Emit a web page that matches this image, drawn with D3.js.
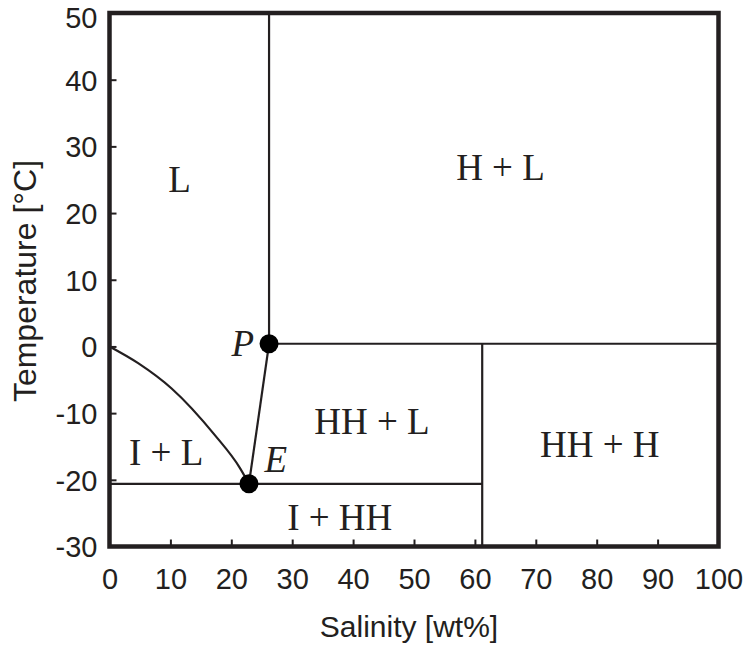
<!DOCTYPE html>
<meta charset="utf-8">
<style>
	body { margin: 0; background: #fff; }
	.axis text { font-family: "Liberation Sans", Arial, sans-serif; font-size: 29px; fill: #231f20; }
	.axis line { stroke: #231f20; stroke-width: 2; }
	.axis path { display: none; }
	.title { font-family: "Liberation Sans", Arial, sans-serif; font-size: 30px; fill: #231f20; }
	.phase { font-family: "Liberation Serif", "Times New Roman", serif; font-size: 37px; fill: #231f20; }
	.phase.pt { font-style: italic; }
	.bound { fill: none; stroke: #231f20; stroke-width: 2.2; }
</style>

<svg width="747" height="650"></svg>
<script src="https://d3js.org/d3.v7.min.js"></script>

<script>
	// tick values
	var xTicks = [0, 10, 20, 30, 40, 50, 60, 70, 80, 90, 100];
	var yTicks = [-30, -20, -10, 0, 10, 20, 30, 40, 50];

	// invariant points (salinity, temperature)
	var pointP = [26.2, 0.4];
	var pointE = [22.9, -20.6];

	// ice liquidus, from pure water down to E
	var iceCurve = [[0, 0], [4.7, -2.5], [10.2, -6.3], [17.3, -13.3], [21.4, -18.2], [22.9, -20.6]];

	// straight phase boundaries
	var boundaries = [
		[[26.2, 50], pointP],
		[pointP, [100, 0.4]],
		[pointP, pointE],
		[[0, -20.6], [61.2, -20.6]],
		[[61.2, -30], [61.2, 0.4]]
	];

	// field labels
	var labels = [
		{text: "L", x: 11.5, y: 23.2},
		{text: "H + L", x: 64.2, y: 25.0},
		{text: "HH + L", x: 43.1, y: -13.2},
		{text: "HH + H", x: 80.5, y: -16.6},
		{text: "I + L", x: 9.3, y: -17.8},
		{text: "I + HH", x: 37.8, y: -27.6}
	];
	var pointLabels = [
		{text: "P", x: 21.9, y: -1.5},
		{text: "E", x: 27.3, y: -18.9}
	];

	var svg = d3.select("svg");

	var x = d3.scaleLinear().domain([0, 100]).range([109.5, 718.5]),
	    y = d3.scaleLinear().domain([-30, 50]).range([546.5, 13]);

	var g = svg.append("g");

	// axes, ticks pointing inward, plain hyphen for negatives
	g.append("g")
		.attr("class", "axis")
		.attr("transform", "translate(0," + y(-30) + ")")
		.call(d3.axisBottom(x).tickValues(xTicks).tickFormat(String)
			.tickSizeInner(-7).tickSizeOuter(0).tickPadding(22));

	g.append("g")
		.attr("class", "axis")
		.attr("transform", "translate(" + x(0) + ",0)")
		.call(d3.axisLeft(y).tickValues(yTicks).tickFormat(String)
			.tickSizeInner(-7).tickSizeOuter(0).tickPadding(12))
		.selectAll("text")
		.attr("dy", function(d) { return d === 50 ? "0.5em" : "0.36em"; });

	// boundaries
	var line = d3.line().x(function(d) { return x(d[0]); }).y(function(d) { return y(d[1]); });

	g.selectAll(".straight")
	  .data(boundaries)
	  .enter().append("path")
		.attr("class", "bound straight")
		.attr("d", line);

	g.append("path")
		.attr("class", "bound")
		.attr("d", line.curve(d3.curveMonotoneX)(iceCurve));

	// frame
	g.append("rect")
		.attr("x", x(0))
		.attr("y", y(50))
		.attr("width", x(100) - x(0))
		.attr("height", y(-30) - y(50))
		.attr("fill", "none")
		.attr("stroke", "#231f20")
		.attr("stroke-width", 4.5);

	// invariant points
	g.selectAll(".dot")
	  .data([pointP, pointE])
	  .enter().append("circle")
		.attr("cx", function(d) { return x(d[0]); })
		.attr("cy", function(d) { return y(d[1]); })
		.attr("r", 9.5)
		.attr("fill", "#000");

	// labels
	g.selectAll(".field")
	  .data(labels)
	  .enter().append("text")
		.attr("class", "phase")
		.attr("text-anchor", "middle")
		.attr("x", function(d) { return x(d.x); })
		.attr("y", function(d) { return y(d.y); })
		.text(function(d) { return d.text; });

	g.selectAll(".pt")
	  .data(pointLabels)
	  .enter().append("text")
		.attr("class", "phase pt")
		.attr("text-anchor", "middle")
		.attr("x", function(d) { return x(d.x); })
		.attr("y", function(d) { return y(d.y); })
		.text(function(d) { return d.text; });

	// axis titles
	svg.append("text")
		.attr("class", "title")
		.attr("text-anchor", "middle")
		.attr("x", 409)
		.attr("y", 637)
		.text("Salinity [wt%]");

	svg.append("text")
		.attr("class", "title")
		.attr("text-anchor", "middle")
		.attr("transform", "translate(36,281) rotate(-90)")
		.style("font-size", "32px")
		.text("Temperature [°C]");
</script>
